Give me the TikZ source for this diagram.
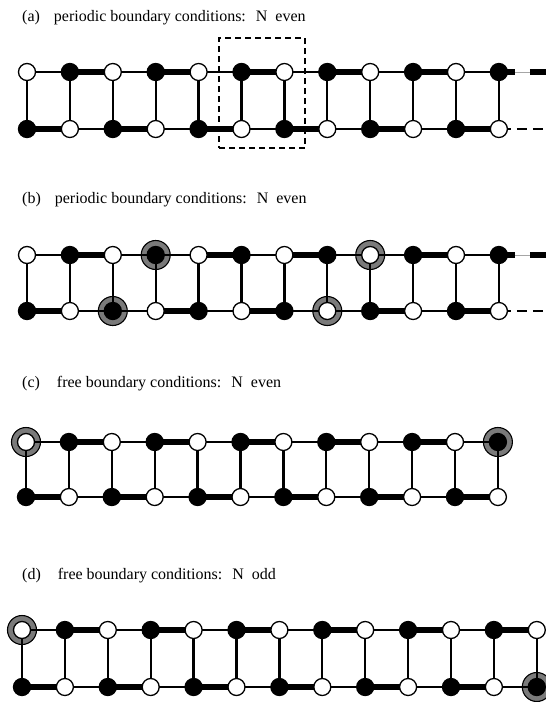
\documentclass[tikz,border=0pt]{standalone}
\usepackage{fontspec}
\setmainfont{Liberation Serif}
\pgfdeclarelayer{ringlayer}
\pgfdeclarelayer{bondlayer}
\pgfsetlayers{ringlayer,bondlayer,main}

\tikzset{
 site/.style={circle, draw=black, line width=1.3pt, minimum size=17pt, inner sep=0pt},
 wsite/.style={site, fill=white},
 bsite/.style={site, fill=black},
 ringmark/.style={circle, draw=black, fill=black!52, line width=1.1pt, minimum size=29pt, inner sep=0pt},
 weak/.style={line width=2pt},
 strong/.style={line width=6pt},
 rungline/.style={line width=2.3pt},
 ghost/.style={line width=1pt, black!35},
 title/.style={anchor=base west, inner sep=0pt, font=\fontsize{16}{19}\selectfont},
 dashbox/.style={draw, line width=1.3pt, dash pattern=on 6pt off 4pt, inner sep=0pt},
}

% #1 prefix, #2 x0, #3 ytop, #4 ybot, #5 last index, #6 top strong list, #7 bottom strong list
\newcommand{\mkladder}[7]{%
  \foreach \i in {0,...,#5}{
    \pgfmathsetmacro{\xx}{#2+42.9*\i}
    \ifodd\i\relax
      \node[bsite] (#1t\i) at (\xx,#3) {};
      \node[wsite] (#1b\i) at (\xx,#4) {};
    \else
      \node[wsite] (#1t\i) at (\xx,#3) {};
      \node[bsite] (#1b\i) at (\xx,#4) {};
    \fi
  }
  \begin{pgfonlayer}{bondlayer}
    \foreach \i in {0,...,#5}{\draw[rungline] (#1t\i.center) -- (#1b\i.center);}
    \foreach \j in {1,...,#5}{
      \pgfmathtruncatemacro{\k}{\j-1}
      \draw[weak] (#1t\k.center) -- (#1t\j.center);
      \draw[weak] (#1b\k.center) -- (#1b\j.center);
    }
    \foreach \k in {#6}{
      \pgfmathtruncatemacro{\j}{\k+1}
      \draw[strong] (#1t\k.center) -- (#1t\j.center);
    }
    \foreach \k in {#7}{
      \pgfmathtruncatemacro{\j}{\k+1}
      \draw[strong] (#1b\k.center) -- (#1b\j.center);
    }
  \end{pgfonlayer}
}

\begin{document}
\begin{tikzpicture}[x=1pt,y=-1pt]
\useasboundingbox (0,0) rectangle (546,702);

% ---------- (a)
\node[title] (ta) at (22,21) {(a)\hspace{14pt}periodic boundary conditions:\hspace{10pt}N\hspace{8pt}even};
\mkladder{a}{27}{72}{129}{11}{1,3,5,7,9}{0,2,4,6,8,10}
\coordinate (aet) at (546,72);
\coordinate (aeb) at (546,129);
\begin{pgfonlayer}{bondlayer}
  \draw[ghost] (at11.center) -- (aet);
  \draw[strong, dash pattern=on 16pt off 15pt] (at11.center) -- (aet);
  \draw[weak, dash pattern=on 10pt off 6pt, dash phase=14pt] (ab11.center) -- (aeb);
\end{pgfonlayer}
\node[dashbox, minimum width=86pt, minimum height=110pt] (box) at (262,93) {};

% ---------- (b)
\node[title] (tb) at (22,203) {(b)\hspace{14pt}periodic boundary conditions:\hspace{10pt}N\hspace{8pt}even};
\mkladder{b}{27}{255}{311}{11}{1,4,6,9}{0,3,5,8,10}
\coordinate (bet) at (546,255);
\coordinate (beb) at (546,311);
\begin{pgfonlayer}{bondlayer}
  \draw[ghost] (bt11.center) -- (bet);
  \draw[strong, dash pattern=on 16pt off 15pt] (bt11.center) -- (bet);
  \draw[weak, dash pattern=on 10pt off 6pt, dash phase=14pt] (bb11.center) -- (beb);
\end{pgfonlayer}
\begin{pgfonlayer}{ringlayer}
  \node[ringmark] (br1) at (bt3) {};
  \node[ringmark] (br2) at (bb2) {};
  \node[ringmark] (br3) at (bt8) {};
  \node[ringmark] (br4) at (bb7) {};
\end{pgfonlayer}

% ---------- (c)
\node[title] (tc) at (22,387) {(c)\hspace{17pt}free boundary conditions:\hspace{10pt}N\hspace{8pt}even};
\mkladder{c}{26}{442}{497}{11}{1,3,5,7,9}{0,2,4,6,8,10}
\begin{pgfonlayer}{ringlayer}
  \node[ringmark] (cr1) at (ct0) {};
  \node[ringmark] (cr2) at (ct11) {};
\end{pgfonlayer}

% ---------- (d)
\node[title] (td) at (22,579) {(d)\hspace{17pt}free boundary conditions:\hspace{10pt}N\hspace{8pt}odd};
\mkladder{d}{22}{630}{687}{12}{1,3,5,7,9,11}{0,2,4,6,8,10}
\begin{pgfonlayer}{ringlayer}
  \node[ringmark] (dr1) at (dt0) {};
  \node[ringmark] (dr2) at (db12) {};
\end{pgfonlayer}
\end{tikzpicture}
\end{document}
